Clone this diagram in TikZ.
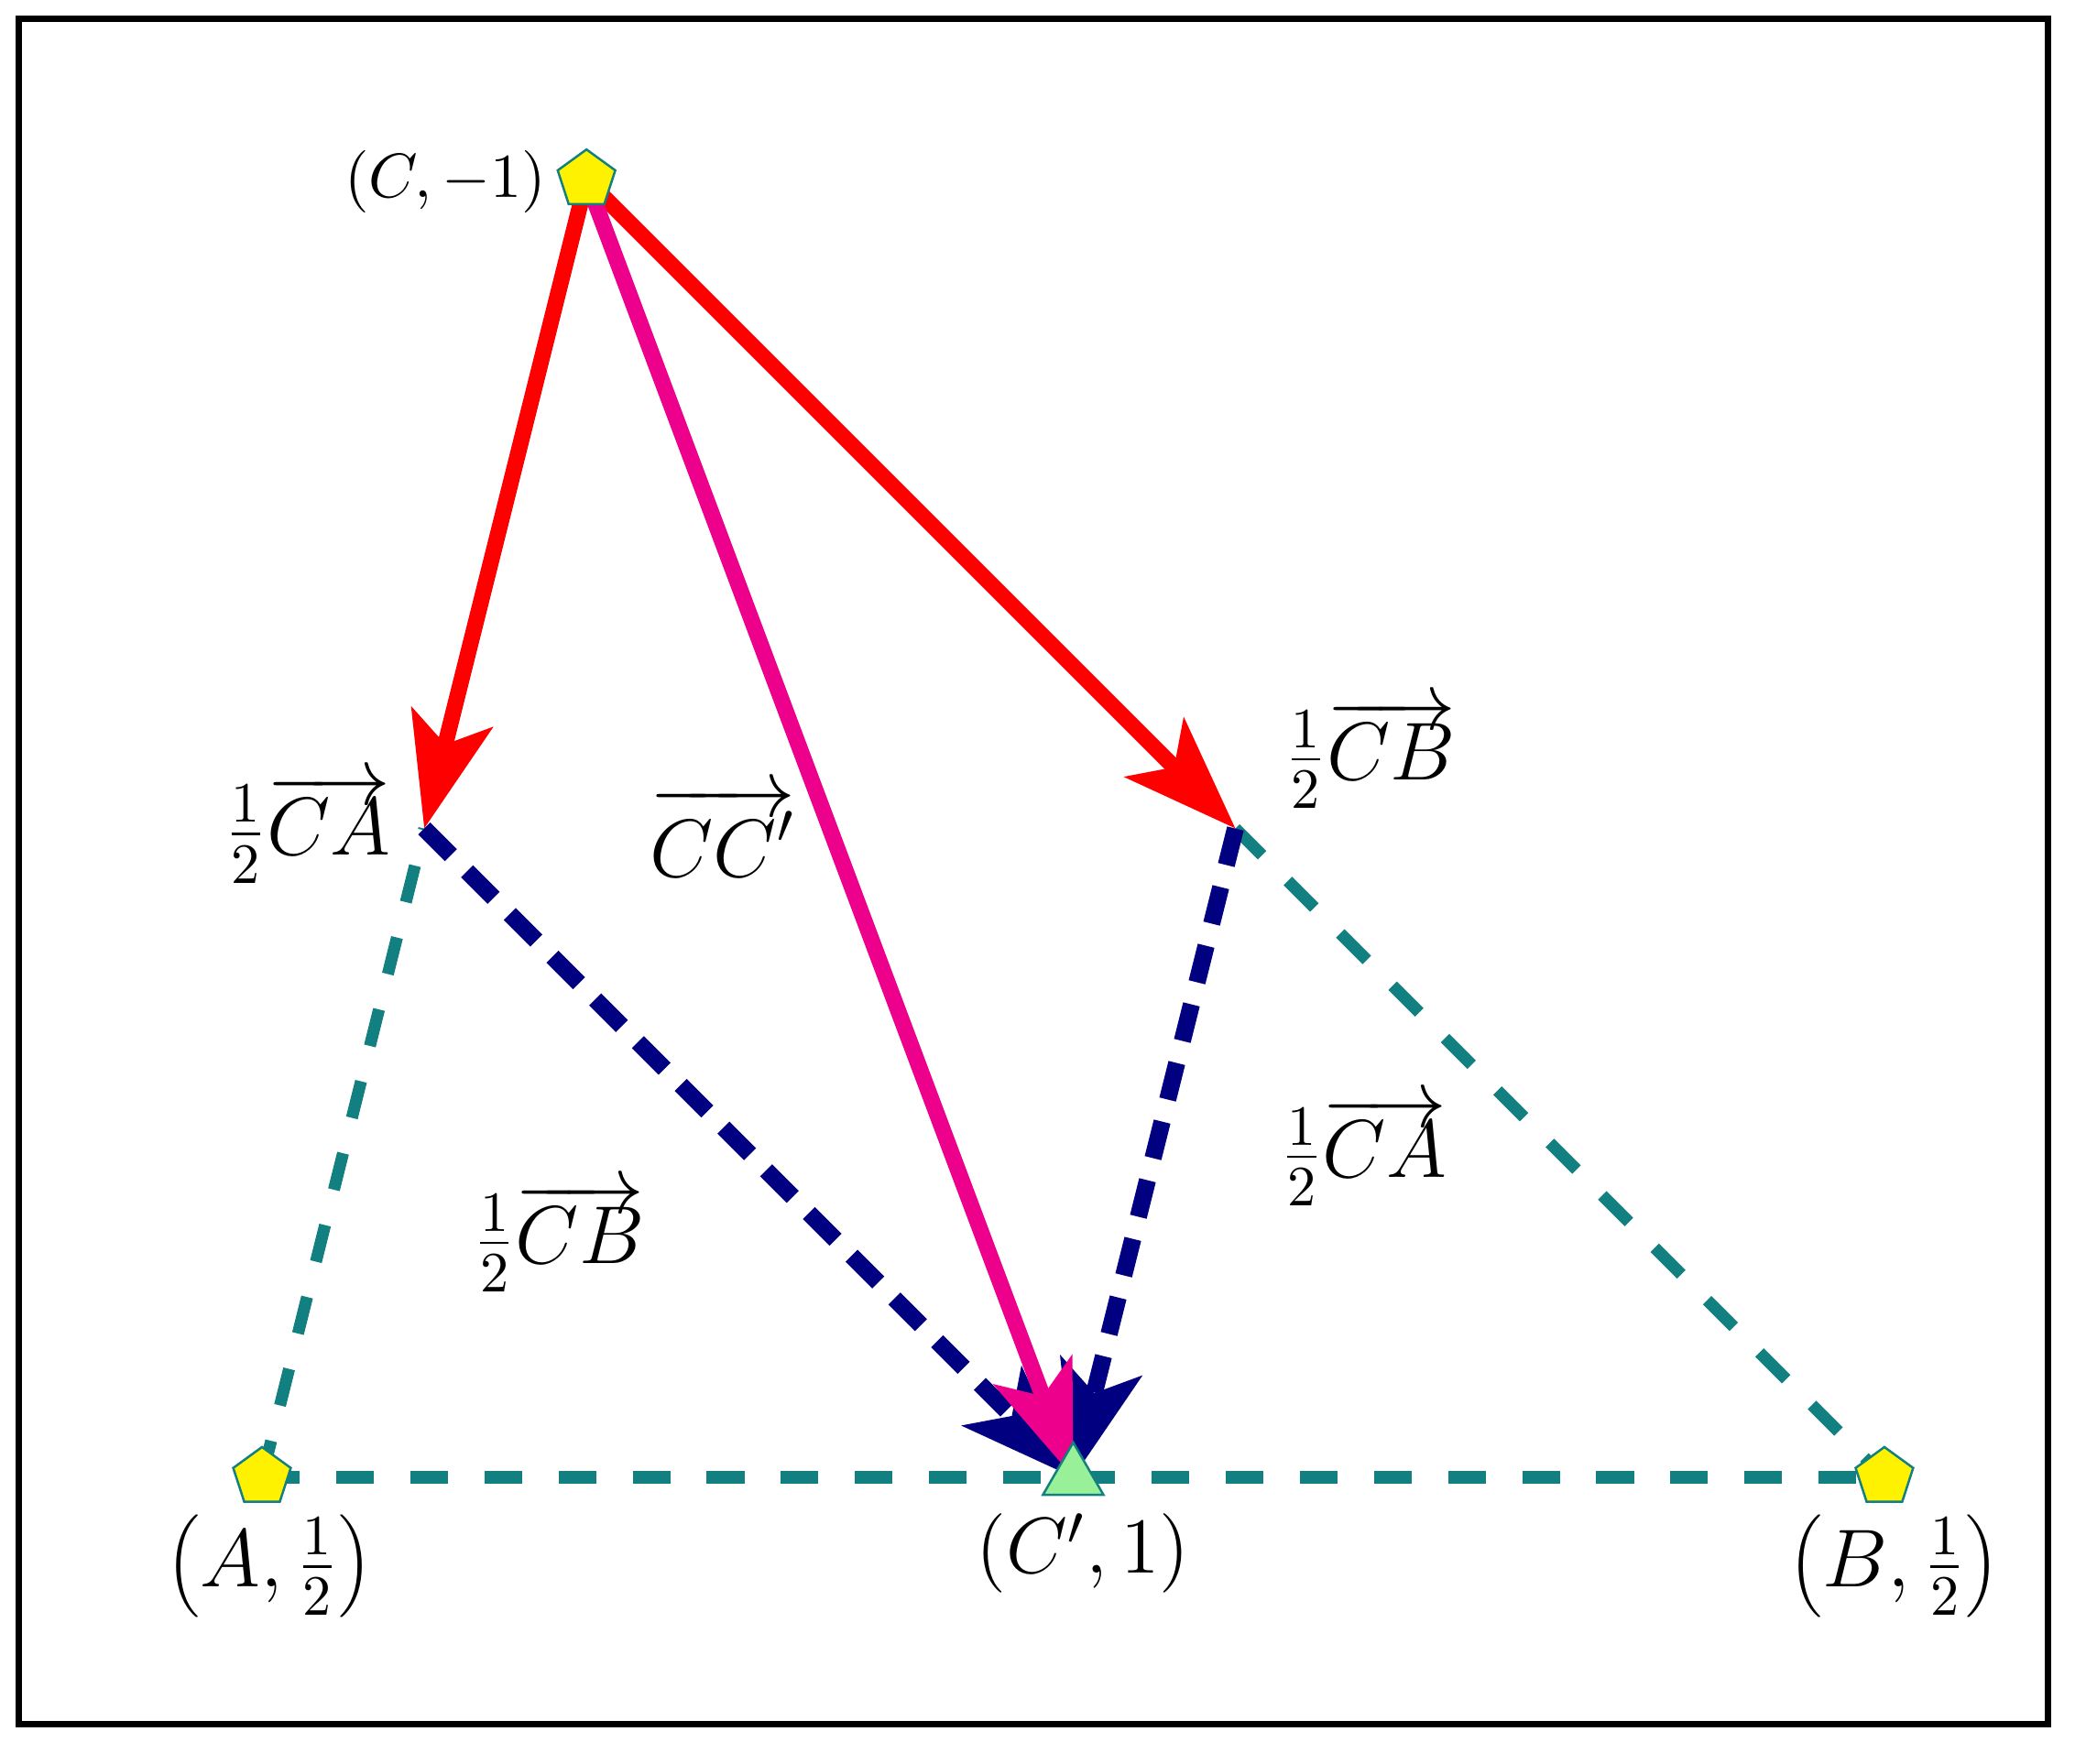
\documentclass[tikz,border=0pt]{standalone}
\usepackage{fix-cm}
\usepackage{tikz}
\usetikzlibrary{arrows.meta,shapes,backgrounds}
\definecolor{ptyellow}{RGB}{255,242,0}
\definecolor{ptteal}{RGB}{18,128,128}
\definecolor{ptgreen}{RGB}{152,240,152}
\definecolor{vecpink}{RGB}{236,0,140}
\definecolor{vecnavy}{RGB}{0,0,128}
\tikzstyle{vertex}=[regular polygon,regular polygon sides=5,fill=ptyellow,draw=ptteal,minimum size=0.373cm,inner sep=0pt]
\tikzstyle{midvertex}=[regular polygon,regular polygon sides=3,fill=ptgreen,draw=ptteal,minimum size=0.43cm,inner sep=0pt]
\tikzstyle{weight}=[font=\fontsize{14.4}{17}\selectfont]
\tikzstyle{vec}=[-{Stealth[length=20pt,width=14.5pt,inset=4.8pt]},line width=2.8pt]
\tikzstyle{side}=[ptteal,line width=2.1pt,dash pattern=on 6.6pt off 6.4pt]

\begin{document}
\begin{tikzpicture}
\useasboundingbox (-1.615,-1.762) rectangle (11.175,9.108);
\draw[line width=1.1pt] (-1.5,-1.52) rectangle (11.01,8.99);

%points
    \foreach \pos/\name in {{(0,0)/A}, {(10,0)/B}, {(2,8)/C}}
        \node[vertex] (\name) at \pos {};
    \node[midvertex] (Cp) at (5,0) {};
    \coordinate (mCA) at (1,4);
    \coordinate (mCB) at (6,4);

%labels
    \node[font=\fontsize{10.95}{13}\selectfont] (lC) at (1.13,7.99) {$(C,-1)$};
    \node[weight] (lA) at (0.045,-0.55) {$\left(A,\frac{1}{2}\right)$};
    \node[weight] (lB) at (10.06,-0.55) {$\left(B,\frac{1}{2}\right)$};
    \node[font=\fontsize{13.9}{16}\selectfont] (lCp) at (5.06,-0.47) {$(C',1)$};
    \node[weight] (lCAa) at (0.28,4.0) {$\frac{1}{2}\overrightarrow{CA}$};
    \node[weight] (lCC) at (2.84,3.98) {$\overrightarrow{CC'}$};
    \node[weight] (lCBa) at (6.83,4.46) {$\frac{1}{2}\overrightarrow{CB}$};
    \node[weight] (lCAb) at (6.79,2.01) {$\frac{1}{2}\overrightarrow{CA}$};
    \node[weight] (lCBb) at (1.83,1.48) {$\frac{1}{2}\overrightarrow{CB}$};

%vectors
  \begin{scope}[on background layer]
  \foreach \source/ \dest in {A/mCA, mCB/B, A/B}
          \draw[side] (\source.center) -- (\dest.center);
  \foreach \source/ \dest in {C/mCA, C/mCB}
          \draw[vec, red] (\source.center) -- (\dest.center);
  \foreach \source/ \dest in {mCA/Cp, mCB/Cp}
          \draw[vec, vecnavy, line width=3pt, dash pattern=on 6.6pt off 4pt] (\source.center) -- (\dest.center);
  \draw[vec, vecpink] (C.center) -- (Cp.center);
  \end{scope}

\end{tikzpicture}
\end{document}
